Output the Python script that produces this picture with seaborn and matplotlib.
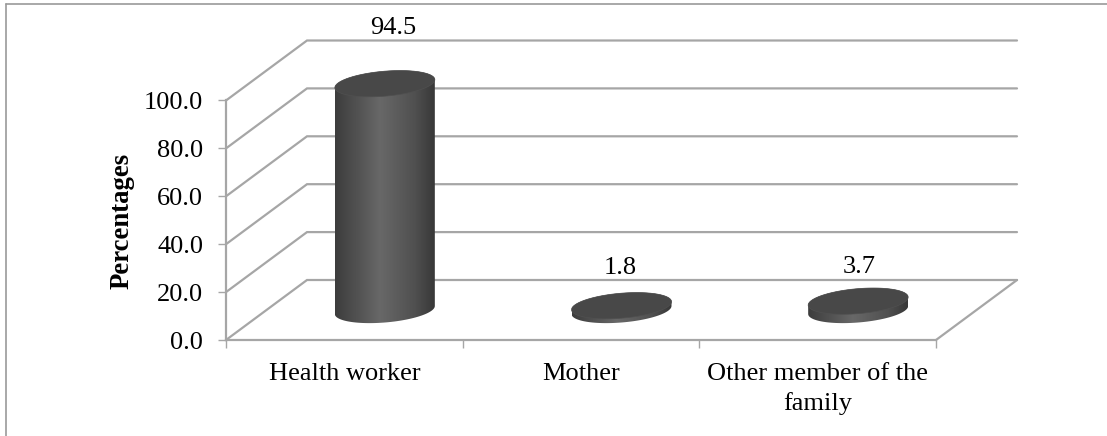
import numpy as np
import pandas as pd
import seaborn as sns
import matplotlib.pyplot as plt
from matplotlib.colors import LinearSegmentedColormap
from matplotlib.patches import PathPatch, Polygon
from matplotlib.path import Path

categories = ["Health worker", "Mother", "Other member of the\nfamily"]
values = [94.5, 1.8, 3.7]
y_ticks = [0, 20, 40, 60, 80, 100]

W, H = 1107, 436
GREY = "#a6a6a6"
FS = 19
DEPTH = (81, -60)  # how far the back wall sits from the front plane, px
LABEL_NUDGE = [(8, -56), (-1, -38), (1, -34)]  # value labels relative to cylinder top, px

sns.set_theme(style="ticks")
plt.rcParams["font.family"] = ["Liberation Serif", "DejaVu Serif"]

fig = plt.figure(figsize=(W / 100, H / 100), dpi=100, facecolor="white")
ax = fig.add_axes([226 / W, 1 - 340 / H, (936 - 226) / W, (340 - 100.5) / H])
px = fig.add_axes([0, 0, 1, 1], zorder=5)
px.set_xlim(0, W)
px.set_ylim(H, 0)
px.axis("off")

df = pd.DataFrame({"who": categories, "pct": values})
sns.barplot(data=df, x="who", y="pct", ax=ax, width=100 / 236.7, color="#4a4a4a")
ax.set_xlim(-0.5, 2.5)
ax.set_ylim(0, 100)
ax.patch.set_alpha(0)


def to_px(x, y, depth=1.0):
    p = px.transData.inverted().transform(ax.transData.transform((x, y)))
    return p[0] + DEPTH[0] * depth, p[1] + DEPTH[1] * depth


# walls and floor
for t in y_ticks:
    x0, y0 = to_px(-0.5, t, 0)
    x1, y1 = to_px(-0.5, t, 1)
    x2, y2 = to_px(2.5, t, 1)
    px.plot([x0, x1, x2], [y0, y1, y2], color=GREY, lw=1.6, solid_joinstyle="miter", zorder=1)
fx, fy = to_px(2.5, 0, 0)
bx, by = to_px(2.5, 0, 1)
px.plot([fx, bx], [fy, by], color=GREY, lw=1.6, zorder=1)

# cylinders built from the seaborn bars
grad = LinearSegmentedColormap.from_list(
    "cyl", [(0, "#3c3c3c"), (0.12, "#484848"), (0.45, "#686868"), (0.8, "#505050"), (1, "#383838")]
)
t_low = np.linspace(np.pi, 0, 60)
t_up = np.linspace(0, -np.pi, 60)
for bar, v, nudge in zip(ax.patches, values, LABEL_NUDGE):
    xc = bar.get_x() + bar.get_width() / 2
    left, _ = to_px(bar.get_x(), 0, 0.5)
    right, _ = to_px(bar.get_x() + bar.get_width(), 0, 0.5)
    cx, base = to_px(xc, 0, 0.5)
    _, top = to_px(xc, v, 0.5)
    a = (right - left) / 2
    b, s = 12.5, 4.0

    def ell(t, cy):
        return np.column_stack([cx + a * np.cos(t), cy + b * np.sin(t) - s * np.cos(t)])

    body = np.vstack([ell(t_low, base), ell(t_up, top)])
    im = px.imshow(
        np.linspace(0, 1, 200)[None, :], cmap=grad, aspect="auto",
        extent=(left, right, base + 15, top - 15), zorder=2,
    )
    clip = PathPatch(Path(body), transform=px.transData, fc="none", ec="none")
    px.add_patch(clip)
    im.set_clip_path(clip)
    px.add_patch(Polygon(ell(np.linspace(0, 2 * np.pi, 120), top), closed=True,
                         fc="#484848", ec="#505050", lw=0.5, zorder=3))
    px.text(cx + nudge[0], top + nudge[1], f"{v:.1f}", ha="center", va="center",
            fontsize=FS, color="black", zorder=4)
    bar.set_visible(False)
px.set_xlim(0, W)
px.set_ylim(H, 0)

# axes
ax.set_yticks(y_ticks)
ax.set_yticklabels([f"{t:.1f}" for t in y_ticks], fontsize=FS, color="black")
ax.set_xticks([0, 1, 2])
ax.set_xticklabels(categories, fontsize=FS, color="black", linespacing=1.39)
ax.set_xticks([-0.5, 0.5, 1.5, 2.5], minor=True)
ax.tick_params(axis="x", which="major", length=0, pad=16.5)
ax.tick_params(axis="x", which="minor", length=5.5, width=1, color=GREY)
ax.tick_params(axis="y", length=5.8, width=1, color=GREY, pad=10.5)
ax.set_xlabel("")
ax.set_ylabel("")
for side in ("top", "right"):
    ax.spines[side].set_visible(False)
for side in ("left", "bottom"):
    ax.spines[side].set_color(GREY)
    ax.spines[side].set_linewidth(1.6)
px.text(122, 221, "Percentages", rotation=90, ha="center", va="center",
        fontsize=FS + 0.3, fontweight="bold", color="black")

# thin frame of the pasted picture
px.plot([6, 6], [H, 4.5], color="#999999", lw=1.2, clip_on=False)
px.plot([6, W], [4.5, 4.5], color="#999999", lw=1.2, clip_on=False)

fig.savefig("out.png", dpi=100)
